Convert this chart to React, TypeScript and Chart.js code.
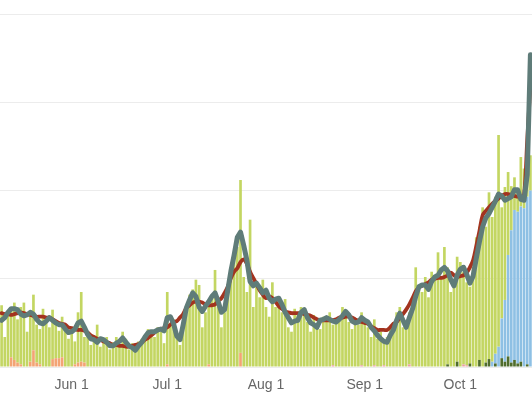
import React, { useEffect, useRef } from "react";
import { Chart, registerables } from "chart.js";

Chart.register(...registerables);

const START_DATE = Date.UTC(2020, 4, 10); // May 10
const DAY_COUNT = 167;
const MONTH_NAMES = ["Jan", "Feb", "Mar", "Apr", "May", "Jun", "Jul", "Aug", "Sep", "Oct", "Nov", "Dec"];
const TICK_LABELS = ["Jun 1", "Jul 1", "Aug 1", "Sep 1", "Oct 1"];

// main daily bars (yellow-green)
const GREEN = [
  70, 34, 59, 55, 65, 49, 65, 73, 40, 56,
  63, 43, 40, 66, 50, 45, 56, 41, 31, 46,
  45, 32, 40, 26, 57, 79, 29, 39, 25, 34,
  48, 23, 32, 34, 20, 28, 34, 25, 40, 32,
  20, 27, 23, 29, 32, 36, 43, 41, 34, 45,
  40, 27, 82, 48, 54, 34, 25, 51, 70, 82,
  88, 99, 93, 45, 62, 67, 79, 110, 68, 45,
  62, 91, 113, 125, 136, 196, 102, 85, 167, 68,
  96, 79, 99, 68, 57, 96, 68, 79, 62, 77,
  45, 40, 66, 62, 68, 66, 51, 40, 59, 45,
  43, 57, 51, 62, 46, 54, 57, 68, 59, 51,
  43, 54, 48, 60, 51, 45, 34, 52, 32, 40,
  26, 34, 45, 51, 62, 68, 45, 51, 59, 74,
  113, 91, 85, 102, 79, 108, 100, 130, 102, 136,
  110, 85, 91, 119, 119, 105, 94, 87, 113, 147,
  151, 181, 154, 189, 164, 178, 240, 126, 128, 94,
  50, 37, 24, 56, 45, 37, 40,
];

// rough short average (grey-teal line)
const SHORT_AVG = [
  53, 56, 62, 66, 66, 65, 60, 58, 59, 62,
  60, 54, 50, 49, 52, 56, 53, 50, 48, 48,
  43, 39, 40, 43, 50, 52, 45, 37, 32, 31,
  28, 32, 31, 28, 24, 24, 27, 29, 33, 28,
  24, 22, 19, 24, 28, 34, 39, 40, 40, 42,
  43, 41, 56, 57, 49, 35, 31, 48, 67, 76,
  84, 80, 68, 63, 69, 74, 80, 84, 74, 62,
  65, 87, 109, 127, 147, 153, 138, 121, 97, 92,
  95, 90, 84, 87, 78, 74, 77, 78, 71, 62,
  56, 50, 52, 53, 62, 65, 56, 50, 48, 45,
  53, 54, 56, 54, 52, 51, 54, 58, 63, 59,
  52, 50, 51, 56, 53, 51, 45, 41, 36, 32,
  29, 28, 36, 42, 53, 61, 53, 45, 56, 66,
  80, 91, 93, 93, 88, 97, 102, 104, 110, 113,
  109, 99, 92, 104, 111, 113, 105, 95, 103, 123,
  142, 159, 169, 174, 181, 188, 196, 194, 189, 191,
  193, 201, 201, 190, 189, 218, 354,
];

// smooth weekly average (dark red line)
const WEEK_AVG = [
  61, 60, 60, 59, 60, 61, 62, 61, 60, 59,
  58, 57, 57, 57, 56, 56, 54, 52, 50, 49,
  48, 45, 44, 43, 42, 42, 41, 39, 36, 34,
  32, 31, 29, 28, 27, 25, 25, 24, 24, 23,
  23, 24, 25, 26, 28, 31, 33, 36, 39, 42,
  43, 44, 45, 48, 51, 52, 56, 60, 67, 70,
  73, 74, 74, 73, 71, 70, 70, 71, 75, 78,
  84, 91, 101, 108, 112, 119, 122, 117, 108, 101,
  94, 87, 82, 78, 80, 78, 74, 69, 66, 63,
  62, 61, 61, 61, 61, 60, 59, 58, 56, 54,
  53, 53, 53, 53, 53, 54, 56, 56, 57, 57,
  56, 54, 52, 51, 50, 49, 46, 44, 42, 42,
  42, 42, 45, 49, 51, 56, 60, 65, 71, 78,
  86, 90, 92, 94, 96, 99, 100, 101, 101, 102,
  104, 107, 104, 102, 103, 104, 107, 113, 121, 137,
  154, 172, 177, 181, 185, 188, 191, 194, 196, 196,
  195, 194, 193, 193, 195, 257, 320,
];

// sparse small series: [day index, value]
const ORANGE_DAYS: [number, number][] = [
  [3, 11], [4, 8], [5, 5], [6, 3], [9, 6], [10, 19], [11, 5], [12, 3],
  [16, 9], [17, 10], [18, 10], [19, 11], [23, 3], [24, 5], [25, 6], [26, 5],
  [52, 3], [65, 3], [75, 16],
];
const BLUE_DAYS: [number, number][] = [
  [154, 6], [155, 11], [156, 23], [157, 45], [158, 70], [159, 115], [160, 150],
  [161, 170], [162, 172], [163, 176], [164, 180], [165, 190], [166, 200],
];
const DARK_GREEN_DAYS: [number, number][] = [
  [140, 3], [143, 6], [147, 4], [150, 8], [152, 5], [153, 9], [155, 4], [157, 10],
  [158, 6], [159, 12], [160, 5], [161, 8], [162, 4], [163, 6], [165, 3],
];
const PINK_DAYS: [number, number][] = [
  [104, 2], [113, 2], [117, 2], [120, 2], [128, 3], [145, 3], [146, 2],
];

function buildLabels(): string[] {
  const out: string[] = [];
  for (let i = 0; i < DAY_COUNT; i++) {
    const d = new Date(START_DATE + i * 86400000);
    out.push(`${MONTH_NAMES[d.getUTCMonth()]} ${d.getUTCDate()}`);
  }
  return out;
}

function expand(pairs: [number, number][]): number[] {
  const arr = new Array(DAY_COUNT).fill(0);
  pairs.forEach(([i, v]) => {
    arr[i] = v;
  });
  return arr;
}

export default function App() {
  const canvasRef = useRef<HTMLCanvasElement | null>(null);

  useEffect(() => {
    if (!canvasRef.current) return;
    const labels = buildLabels();
    const barCommon = {
      type: "bar" as const,
      order: 2,
      barPercentage: 0.84,
      categoryPercentage: 1,
      borderWidth: 0,
    };
    const chart = new Chart(canvasRef.current, {
      type: "bar",
      data: {
        labels,
        datasets: [
          {
            type: "line",
            label: "short avg",
            data: SHORT_AVG,
            borderColor: "#5f7c79",
            borderWidth: 5,
            pointRadius: 0,
            tension: 0,
            borderJoinStyle: "round",
            borderCapStyle: "round",
            fill: false,
            stack: "shortAvg",
            order: 0,
          },
          {
            type: "line",
            label: "weekly avg",
            data: WEEK_AVG,
            borderColor: "#a3331f",
            borderWidth: 3.8,
            pointRadius: 0,
            tension: 0.35,
            borderJoinStyle: "round",
            borderCapStyle: "round",
            fill: false,
            stack: "weekAvg",
            order: 1,
          },
          { ...barCommon, label: "orange", data: expand(ORANGE_DAYS), backgroundColor: "#f3a474" },
          { ...barCommon, label: "dark green", data: expand(DARK_GREEN_DAYS), backgroundColor: "#4f6c2c" },
          { ...barCommon, label: "pink", data: expand(PINK_DAYS), backgroundColor: "#e9a1a1" },
          { ...barCommon, label: "blue", data: expand(BLUE_DAYS), backgroundColor: "#8ec0e4" },
          { ...barCommon, label: "green", data: GREEN, backgroundColor: "#c3d662" },
        ] as any,
      },
      options: {
        animation: false,
        responsive: true,
        maintainAspectRatio: false,
        layout: { padding: 0 },
        plugins: { legend: { display: false }, tooltip: { enabled: false } },
        scales: {
          x: {
            stacked: true,
            grid: { display: false, drawTicks: true, tickLength: 10 },
            border: { display: false },
            ticks: {
              autoSkip: false,
              maxRotation: 0,
              minRotation: 0,
              padding: 0,
              color: "#666",
              font: { family: "'Liberation Sans', Arial, sans-serif", size: 14 },
              callback: function (this: any, value: any) {
                const l = this.getLabelForValue(value);
                return TICK_LABELS.includes(l) ? l : "";
              },
            },
            afterFit: (scale: any) => {
              scale.height = 32;
            },
          },
          y: {
            stacked: true,
            min: 0,
            max: 416,
            grid: { color: "#ececec", lineWidth: 1, drawTicks: false },
            border: { display: false },
            ticks: { display: false, stepSize: 100, includeBounds: false, padding: 0 },
            afterFit: (scale: any) => {
              scale.width = 0;
            },
          },
        },
      } as any,
    });
    return () => chart.destroy();
  }, []);

  return (
    <div style={{ position: "absolute", left: 0, top: 0, width: 532, height: 399, background: "#fff" }}>
      <canvas ref={canvasRef} />
    </div>
  );
}
